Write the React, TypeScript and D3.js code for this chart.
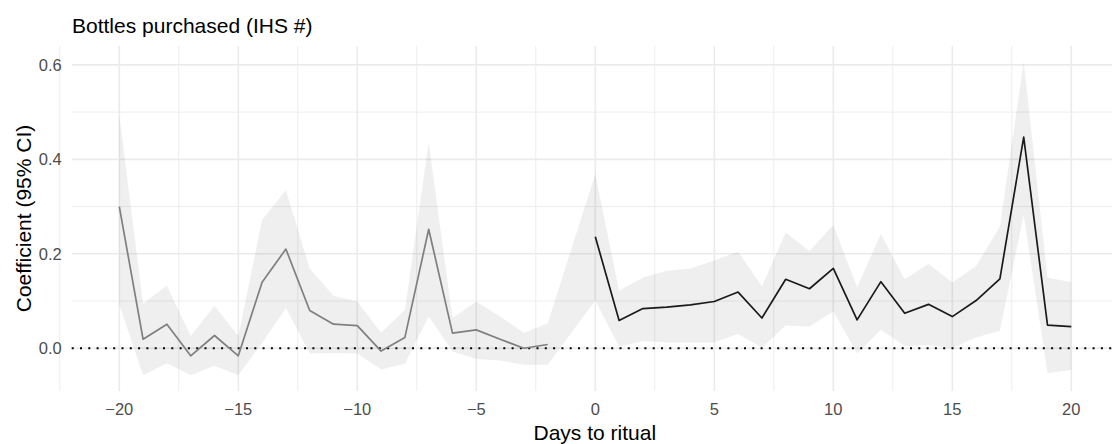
import React from "react";
import * as d3 from "d3";

const daysPre = [-20, -19, -18, -17, -16, -15, -14, -13, -12, -11, -10, -9, -8, -7, -6, -5, -4, -3, -2];
const coefPre = [0.300, 0.019, 0.051, -0.016, 0.027, -0.016, 0.140, 0.210, 0.080, 0.051, 0.048, -0.006, 0.023, 0.252, 0.032, 0.039, 0.019, 0.000, 0.008];
const lowerPre = [0.092, -0.057, -0.032, -0.057, -0.037, -0.057, 0.011, 0.085, -0.011, -0.010, -0.011, -0.045, -0.033, 0.067, -0.007, -0.023, -0.026, -0.035, -0.035];
const upperPre = [0.494, 0.094, 0.133, 0.026, 0.090, 0.026, 0.272, 0.335, 0.169, 0.111, 0.099, 0.033, 0.081, 0.436, 0.064, 0.099, 0.067, 0.033, 0.053];

const daysPost = [0, 1, 2, 3, 4, 5, 6, 7, 8, 9, 10, 11, 12, 13, 14, 15, 16, 17, 18, 19, 20];
const coefPost = [0.236, 0.059, 0.084, 0.087, 0.092, 0.099, 0.119, 0.064, 0.146, 0.126, 0.169, 0.060, 0.141, 0.074, 0.093, 0.067, 0.101, 0.147, 0.447, 0.049, 0.046];
const lowerPost = [0.101, 0.003, 0.015, 0.012, 0.012, 0.012, 0.030, 0.001, 0.048, 0.046, 0.078, -0.011, 0.039, 0.005, 0.007, 0.000, 0.023, 0.037, 0.282, -0.053, -0.046];
const upperPost = [0.369, 0.122, 0.150, 0.164, 0.169, 0.186, 0.205, 0.131, 0.245, 0.206, 0.261, 0.129, 0.242, 0.146, 0.179, 0.139, 0.174, 0.258, 0.607, 0.150, 0.140];

const xMajor = [-20, -15, -10, -5, 0, 5, 10, 15, 20];
const xMinor = [-22.5, -17.5, -12.5, -7.5, -2.5, 2.5, 7.5, 12.5, 17.5, 22.5];
const yMajor = [0.0, 0.2, 0.4, 0.6];
const yMinor = [0.1, 0.3, 0.5];

const title = "Bottles purchased (IHS #)";
const xTitle = "Days to ritual";
const yTitle = "Coefficient (95% CI)";

type Pt = { d: number; c: number; lo: number; hi: number };

export default function App() {
  const W = 1112;
  const H = 444;
  const left = 71.7;
  const right = 1118.9;
  const top = 46;
  const bottom = 391;

  const x = d3.scaleLinear().domain([-22, 22]).range([left, right]);
  const y = d3.scaleLinear().domain([-0.0905, 0.64]).range([bottom, top]);

  const pre: Pt[] = daysPre.map((d, i) => ({ d, c: coefPre[i], lo: lowerPre[i], hi: upperPre[i] }));
  const post: Pt[] = daysPost.map((d, i) => ({ d, c: coefPost[i], lo: lowerPost[i], hi: upperPost[i] }));
  const all = [...pre, ...post];

  const area = d3
    .area<Pt>()
    .x((p) => x(p.d))
    .y0((p) => y(p.lo))
    .y1((p) => y(p.hi));
  const line = d3
    .line<Pt>()
    .x((p) => x(p.d))
    .y((p) => y(p.c));

  const fmtX = d3.format("d");
  const fmtY = d3.format(".1f");
  const font = "'Liberation Sans', Arial, Helvetica, sans-serif";

  return (
    <svg
      width={W}
      height={H}
      style={{ position: "absolute", left: 0, top: 0, background: "#fff" }}
      fontFamily={font}
    >
      <rect x={0} y={0} width={W} height={H} fill="#fff" />
      {/* minor grid */}
      {yMinor.map((v) => (
        <line key={"ym" + v} x1={left} x2={right} y1={y(v)} y2={y(v)} stroke="#ebebeb" strokeWidth={0.9} />
      ))}
      {xMinor.map((v) => (
        <line key={"xm" + v} x1={x(v)} x2={x(v)} y1={top} y2={bottom} stroke="#ebebeb" strokeWidth={0.9} />
      ))}
      {/* major grid */}
      {yMajor.map((v) => (
        <line key={"yM" + v} x1={left} x2={right} y1={y(v)} y2={y(v)} stroke="#ebebeb" strokeWidth={1.6} />
      ))}
      {xMajor.map((v) => (
        <line key={"xM" + v} x1={x(v)} x2={x(v)} y1={top} y2={bottom} stroke="#ebebeb" strokeWidth={1.6} />
      ))}
      {/* ribbon */}
      <path d={area(all) || ""} fill="#000" fillOpacity={0.062} stroke="none" />
      {/* zero line */}
      <line
        x1={left}
        x2={right}
        y1={y(0)}
        y2={y(0)}
        stroke="#000"
        strokeWidth={2}
        strokeDasharray="2 6.3"
      />
      {/* lines */}
      <path d={line(pre) || ""} fill="none" stroke="#7f7f7f" strokeWidth={1.7} strokeLinejoin="round" />
      <path d={line(post) || ""} fill="none" stroke="#1a1a1a" strokeWidth={1.7} strokeLinejoin="round" />
      {/* axis labels */}
      {xMajor.map((v) => (
        <text key={"xt" + v} x={x(v)} y={415} textAnchor="middle" fontSize={16.5} fill="#4d4d4d">
          {fmtX(v)}
        </text>
      ))}
      {yMajor.map((v) => (
        <text key={"yt" + v} x={61.7} y={y(v)} dy="0.35em" textAnchor="end" fontSize={16.5} fill="#4d4d4d">
          {fmtY(v)}
        </text>
      ))}
      <text x={(left + right) / 2 - 0.5} y={440} textAnchor="middle" fontSize={21} fill="#000">
        {xTitle}
      </text>
      <text
        transform={`translate(31,${(top + bottom) / 2}) rotate(-90)`}
        textAnchor="middle"
        fontSize={21}
        fill="#000"
      >
        {yTitle}
      </text>
      <text x={72} y={33.3} fontSize={21} fill="#000">
        {title}
      </text>
    </svg>
  );
}
